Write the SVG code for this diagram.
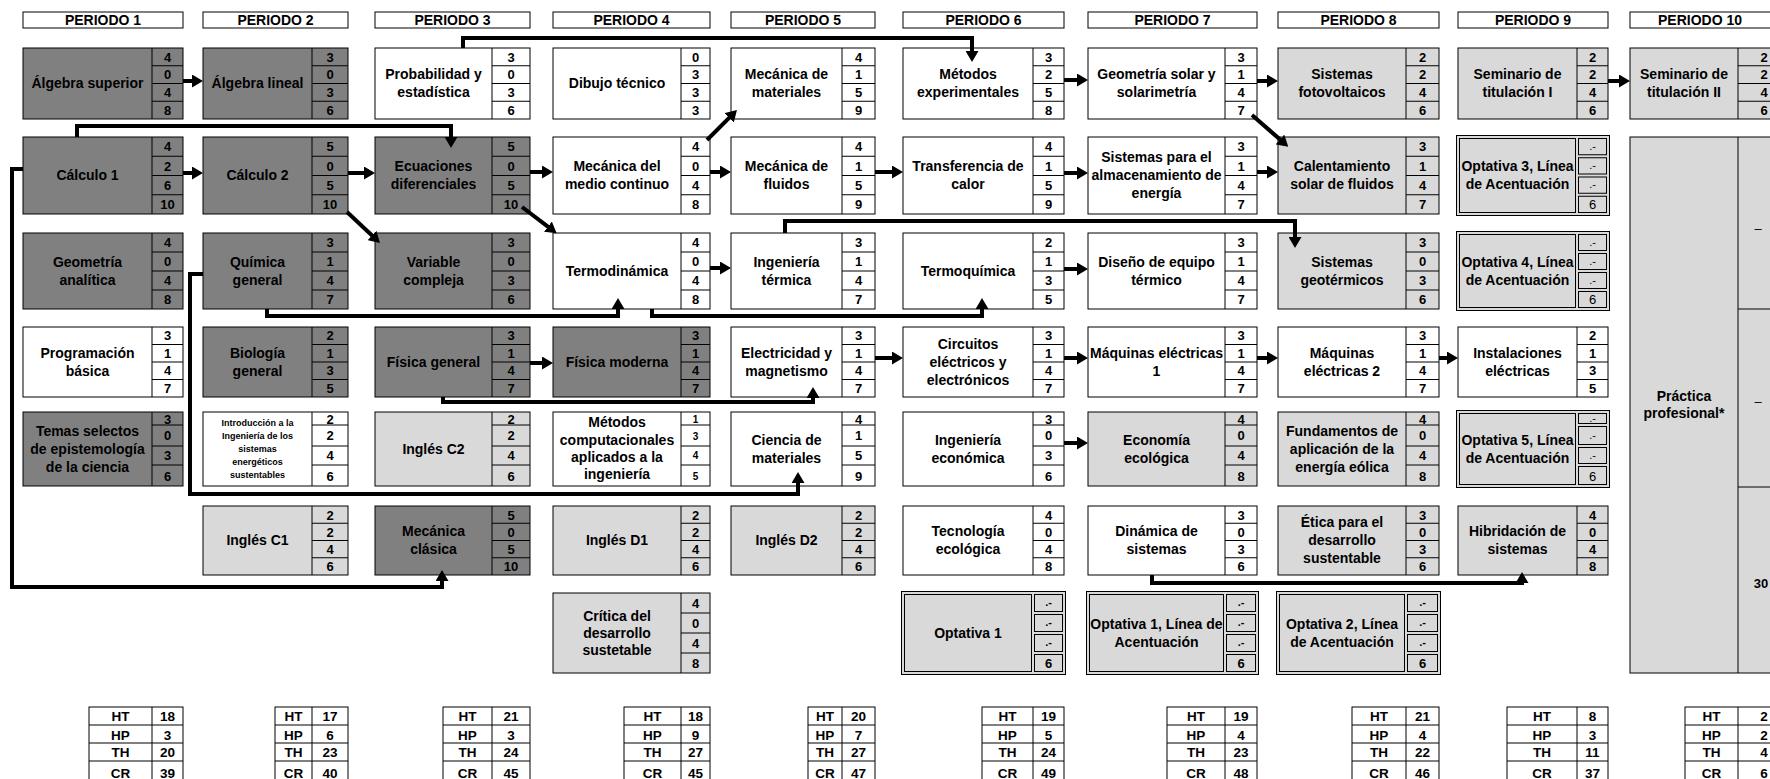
<svg xmlns="http://www.w3.org/2000/svg" width="1770" height="779" viewBox="0 0 1770 779">
<defs>
<style>
.d{fill:#808080;stroke:#000;stroke-width:1}
.l{fill:#d9d9d9;stroke:#000;stroke-width:1}
.w{fill:#fff;stroke:#000;stroke-width:1}
.g{fill:none;stroke:#000;stroke-width:1}
text{font-family:"Liberation Sans",Arial,Helvetica,sans-serif;font-weight:bold;font-size:14px;text-anchor:middle;fill:#000}
.n{font-size:13px}
.s{font-size:9px}
.sn{font-size:10px}
.o{font-size:11px}
.r{font-weight:normal}
.t{font-size:13.5px}
.c{fill:none;stroke:#000;stroke-width:4;stroke-linejoin:miter;marker-end:url(#ah)}
</style>
<marker id="ah" viewBox="0 0 11 13" markerWidth="11" markerHeight="13" markerUnits="userSpaceOnUse" refX="2" refY="6.5" orient="auto"><path d="M0 0L11 6.5L0 13Z" fill="#000"/></marker>
</defs>
<rect x="0" y="0" width="1770" height="779" fill="#fff"/>

<g id="headers">
<rect class="w" x="23" y="12" width="160" height="16"/><text x="103" y="25">PERIODO 1</text>
<rect class="w" x="203" y="12" width="145" height="16"/><text x="275.5" y="25">PERIODO 2</text>
<rect class="w" x="375" y="12" width="155" height="16"/><text x="452.5" y="25">PERIODO 3</text>
<rect class="w" x="553" y="12" width="157" height="16"/><text x="631.5" y="25">PERIODO 4</text>
<rect class="w" x="731" y="12" width="144" height="16"/><text x="803" y="25">PERIODO 5</text>
<rect class="w" x="903" y="12" width="161" height="16"/><text x="983.5" y="25">PERIODO 6</text>
<rect class="w" x="1088" y="12" width="169" height="16"/><text x="1172.5" y="25">PERIODO 7</text>
<rect class="w" x="1278" y="12" width="161" height="16"/><text x="1358.5" y="25">PERIODO 8</text>
<rect class="w" x="1458" y="12" width="150" height="16"/><text x="1533" y="25">PERIODO 9</text>
<rect class="w" x="1630" y="12" width="160" height="16"/><text x="1700" y="25">PERIODO 10</text>
</g>

<!-- PERIODO 1 -->
<g id="algebra-superior"><rect class="d" x="23" y="48" width="160" height="71"/><path class="g" d="M152 48V119M152 65.75H183M152 83.5H183M152 101.25H183"/><text x="87.5" y="88">Álgebra superior</text><text class="n"><tspan x="167.5" y="61.5">4</tspan><tspan x="167.5" y="79">0</tspan><tspan x="167.5" y="97">4</tspan><tspan x="167.5" y="114.5">8</tspan></text></g>
<g id="calculo-1"><rect class="d" x="23" y="137" width="160" height="77"/><path class="g" d="M152 137V214M152 156.25H183M152 175.5H183M152 194.75H183"/><text x="87.5" y="180">Cálculo 1</text><text class="n"><tspan x="167.5" y="151">4</tspan><tspan x="167.5" y="170.5">2</tspan><tspan x="167.5" y="189.5">6</tspan><tspan x="167.5" y="209">10</tspan></text></g>
<g id="geometria-analitica"><rect class="d" x="23" y="233" width="160" height="76"/><path class="g" d="M152 233V309M152 252H183M152 271H183M152 290H183"/><text><tspan x="87.5" y="266.5">Geometría</tspan><tspan x="87.5" y="284.5">analítica</tspan></text><text class="n"><tspan x="167.5" y="247">4</tspan><tspan x="167.5" y="266">0</tspan><tspan x="167.5" y="285">4</tspan><tspan x="167.5" y="304">8</tspan></text></g>
<g id="programacion-basica"><rect class="w" x="23" y="327" width="160" height="70"/><path class="g" d="M152 327V397M152 344.5H183M152 362H183M152 379.5H183"/><text><tspan x="87.5" y="357.5">Programación</tspan><tspan x="87.5" y="375.5">básica</tspan></text><text class="n"><tspan x="167.5" y="340">3</tspan><tspan x="167.5" y="358">1</tspan><tspan x="167.5" y="375">4</tspan><tspan x="167.5" y="393">7</tspan></text></g>
<g id="temas-selectos"><rect class="d" x="23" y="412" width="160" height="74"/><path class="g" d="M152 412V486M152 425H183M152 446H183M152 465H183"/><text><tspan x="87.5" y="435.5">Temas selectos</tspan><tspan x="87.5" y="453.5">de epistemología</tspan><tspan x="87.5" y="471.5">de la ciencia</tspan></text><text class="n"><tspan x="167.5" y="423.5">3</tspan><tspan x="167.5" y="440">0</tspan><tspan x="167.5" y="460">3</tspan><tspan x="167.5" y="480.5">6</tspan></text></g>

<!-- PERIODO 2 -->
<g id="algebra-lineal"><rect class="d" x="203" y="48" width="145" height="71"/><path class="g" d="M312 48V119M312 65.75H348M312 83.5H348M312 101.25H348"/><text x="257.5" y="88">Álgebra lineal</text><text class="n"><tspan x="330" y="61.5">3</tspan><tspan x="330" y="79">0</tspan><tspan x="330" y="97">3</tspan><tspan x="330" y="114.5">6</tspan></text></g>
<g id="calculo-2"><rect class="d" x="203" y="137" width="145" height="77"/><path class="g" d="M312 137V214M312 156.25H348M312 175.5H348M312 194.75H348"/><text x="257.5" y="180">Cálculo 2</text><text class="n"><tspan x="330" y="151">5</tspan><tspan x="330" y="170.5">0</tspan><tspan x="330" y="189.5">5</tspan><tspan x="330" y="209">10</tspan></text></g>
<g id="quimica-general"><rect class="d" x="203" y="233" width="145" height="76"/><path class="g" d="M312 233V309M312 252H348M312 271H348M312 290H348"/><text><tspan x="257.5" y="266.5">Química</tspan><tspan x="257.5" y="284.5">general</tspan></text><text class="n"><tspan x="330" y="247">3</tspan><tspan x="330" y="266">1</tspan><tspan x="330" y="285">4</tspan><tspan x="330" y="304">7</tspan></text></g>
<g id="biologia-general"><rect class="d" x="203" y="327" width="145" height="70"/><path class="g" d="M312 327V397M312 344.5H348M312 362H348M312 379.5H348"/><text><tspan x="257.5" y="357.5">Biología</tspan><tspan x="257.5" y="375.5">general</tspan></text><text class="n"><tspan x="330" y="340">2</tspan><tspan x="330" y="358">1</tspan><tspan x="330" y="375">3</tspan><tspan x="330" y="393">5</tspan></text></g>
<g id="introduccion-ingenieria"><rect class="w" x="203" y="412" width="145" height="74"/><path class="g" d="M312 412V486M312 425H348M312 446H348M312 465H348"/><text class="s"><tspan x="257.5" y="426">Introducción a la</tspan><tspan x="257.5" y="439">Ingeniería de los</tspan><tspan x="257.5" y="452">sistemas</tspan><tspan x="257.5" y="465">energéticos</tspan><tspan x="257.5" y="478">sustentables</tspan></text><text class="n"><tspan x="330" y="423.5">2</tspan><tspan x="330" y="440">2</tspan><tspan x="330" y="460">4</tspan><tspan x="330" y="480.5">6</tspan></text></g>
<g id="ingles-c1"><rect class="l" x="203" y="506" width="145" height="69"/><path class="g" d="M312 506V575M312 523.25H348M312 540.5H348M312 557.75H348"/><text x="257.5" y="545">Inglés C1</text><text class="n"><tspan x="330" y="519.5">2</tspan><tspan x="330" y="536.5">2</tspan><tspan x="330" y="553.5">4</tspan><tspan x="330" y="571">6</tspan></text></g>

<!-- PERIODO 3 -->
<g id="probabilidad-estadistica"><rect class="w" x="375" y="48" width="155" height="71"/><path class="g" d="M492 48V119M492 65.75H530M492 83.5H530M492 101.25H530"/><text><tspan x="433.5" y="79">Probabilidad y</tspan><tspan x="433.5" y="97">estadística</tspan></text><text class="n"><tspan x="511" y="61.5">3</tspan><tspan x="511" y="79">0</tspan><tspan x="511" y="97">3</tspan><tspan x="511" y="114.5">6</tspan></text></g>
<g id="ecuaciones-diferenciales"><rect class="d" x="375" y="137" width="155" height="77"/><path class="g" d="M492 137V214M492 156.25H530M492 175.5H530M492 194.75H530"/><text><tspan x="433.5" y="171">Ecuaciones</tspan><tspan x="433.5" y="189">diferenciales</tspan></text><text class="n"><tspan x="511" y="151">5</tspan><tspan x="511" y="170.5">0</tspan><tspan x="511" y="189.5">5</tspan><tspan x="511" y="209">10</tspan></text></g>
<g id="variable-compleja"><rect class="d" x="375" y="233" width="155" height="76"/><path class="g" d="M492 233V309M492 252H530M492 271H530M492 290H530"/><text><tspan x="433.5" y="266.5">Variable</tspan><tspan x="433.5" y="284.5">compleja</tspan></text><text class="n"><tspan x="511" y="247">3</tspan><tspan x="511" y="266">0</tspan><tspan x="511" y="285">3</tspan><tspan x="511" y="304">6</tspan></text></g>
<g id="fisica-general"><rect class="d" x="375" y="327" width="155" height="70"/><path class="g" d="M492 327V397M492 344.5H530M492 362H530M492 379.5H530"/><text x="433.5" y="366.5">Física general</text><text class="n"><tspan x="511" y="340">3</tspan><tspan x="511" y="358">1</tspan><tspan x="511" y="375">4</tspan><tspan x="511" y="393">7</tspan></text></g>
<g id="ingles-c2"><rect class="l" x="375" y="412" width="155" height="74"/><path class="g" d="M492 412V486M492 425H530M492 446H530M492 465H530"/><text x="433.5" y="453.5">Inglés C2</text><text class="n"><tspan x="511" y="423.5">2</tspan><tspan x="511" y="440">2</tspan><tspan x="511" y="460">4</tspan><tspan x="511" y="480.5">6</tspan></text></g>
<g id="mecanica-clasica"><rect class="d" x="375" y="506" width="155" height="69"/><path class="g" d="M492 506V575M492 523.25H530M492 540.5H530M492 557.75H530"/><text><tspan x="433.5" y="536">Mecánica</tspan><tspan x="433.5" y="554">clásica</tspan></text><text class="n"><tspan x="511" y="519.5">5</tspan><tspan x="511" y="536.5">0</tspan><tspan x="511" y="553.5">5</tspan><tspan x="511" y="571">10</tspan></text></g>

<!-- PERIODO 4 -->
<g id="dibujo-tecnico"><rect class="w" x="553" y="48" width="157" height="71"/><path class="g" d="M681 48V119M681 65.75H710M681 83.5H710M681 101.25H710"/><text x="617" y="88">Dibujo técnico</text><text class="n"><tspan x="695.5" y="61.5">0</tspan><tspan x="695.5" y="79">3</tspan><tspan x="695.5" y="97">3</tspan><tspan x="695.5" y="114.5">3</tspan></text></g>
<g id="mecanica-medio-continuo"><rect class="w" x="553" y="137" width="157" height="77"/><path class="g" d="M681 137V214M681 156.25H710M681 175.5H710M681 194.75H710"/><text><tspan x="617" y="171">Mecánica del</tspan><tspan x="617" y="189">medio continuo</tspan></text><text class="n"><tspan x="695.5" y="151">4</tspan><tspan x="695.5" y="170.5">0</tspan><tspan x="695.5" y="189.5">4</tspan><tspan x="695.5" y="209">8</tspan></text></g>
<g id="termodinamica"><rect class="w" x="553" y="233" width="157" height="76"/><path class="g" d="M681 233V309M681 252H710M681 271H710M681 290H710"/><text x="617" y="275.5">Termodinámica</text><text class="n"><tspan x="695.5" y="247">4</tspan><tspan x="695.5" y="266">0</tspan><tspan x="695.5" y="285">4</tspan><tspan x="695.5" y="304">8</tspan></text></g>
<g id="fisica-moderna"><rect class="d" x="553" y="327" width="157" height="70"/><path class="g" d="M681 327V397M681 344.5H710M681 362H710M681 379.5H710"/><text x="617" y="366.5">Física moderna</text><text class="n"><tspan x="695.5" y="340">3</tspan><tspan x="695.5" y="358">1</tspan><tspan x="695.5" y="375">4</tspan><tspan x="695.5" y="393">7</tspan></text></g>
<g id="metodos-computacionales"><rect class="w" x="553" y="412" width="157" height="74"/><path class="g" d="M681 412V486M681 425H710M681 446H710M681 465H710"/><text><tspan x="617" y="427">Métodos</tspan><tspan x="617" y="445">computacionales</tspan><tspan x="617" y="462">aplicados a la</tspan><tspan x="617" y="479">ingeniería</tspan></text><text class="sn"><tspan x="695.5" y="422.5">1</tspan><tspan x="695.5" y="439.5">3</tspan><tspan x="695.5" y="459">4</tspan><tspan x="695.5" y="479.5">5</tspan></text></g>
<g id="ingles-d1"><rect class="l" x="553" y="506" width="157" height="69"/><path class="g" d="M681 506V575M681 523.25H710M681 540.5H710M681 557.75H710"/><text x="617" y="545">Inglés D1</text><text class="n"><tspan x="695.5" y="519.5">2</tspan><tspan x="695.5" y="536.5">2</tspan><tspan x="695.5" y="553.5">4</tspan><tspan x="695.5" y="571">6</tspan></text></g>
<g id="critica-desarrollo"><rect class="l" x="553" y="593" width="157" height="80"/><path class="g" d="M681 593V673M681 613H710M681 633H710M681 653H710"/><text><tspan x="617" y="620.5">Crítica del</tspan><tspan x="617" y="637.5">desarrollo</tspan><tspan x="617" y="654.5">sustetable</tspan></text><text class="n"><tspan x="695.5" y="607.5">4</tspan><tspan x="695.5" y="627.5">0</tspan><tspan x="695.5" y="647.5">4</tspan><tspan x="695.5" y="667.5">8</tspan></text></g>

<!-- PERIODO 5 -->
<g id="mecanica-materiales"><rect class="w" x="731" y="48" width="144" height="71"/><path class="g" d="M842 48V119M842 65.75H875M842 83.5H875M842 101.25H875"/><text><tspan x="786.5" y="79">Mecánica de</tspan><tspan x="786.5" y="97">materiales</tspan></text><text class="n"><tspan x="858.5" y="61.5">4</tspan><tspan x="858.5" y="79">1</tspan><tspan x="858.5" y="97">5</tspan><tspan x="858.5" y="114.5">9</tspan></text></g>
<g id="mecanica-fluidos"><rect class="w" x="731" y="137" width="144" height="77"/><path class="g" d="M842 137V214M842 156.25H875M842 175.5H875M842 194.75H875"/><text><tspan x="786.5" y="171">Mecánica de</tspan><tspan x="786.5" y="189">fluidos</tspan></text><text class="n"><tspan x="858.5" y="151">4</tspan><tspan x="858.5" y="170.5">1</tspan><tspan x="858.5" y="189.5">5</tspan><tspan x="858.5" y="209">9</tspan></text></g>
<g id="ingenieria-termica"><rect class="w" x="731" y="233" width="144" height="76"/><path class="g" d="M842 233V309M842 252H875M842 271H875M842 290H875"/><text><tspan x="786.5" y="266.5">Ingeniería</tspan><tspan x="786.5" y="284.5">térmica</tspan></text><text class="n"><tspan x="858.5" y="247">3</tspan><tspan x="858.5" y="266">1</tspan><tspan x="858.5" y="285">4</tspan><tspan x="858.5" y="304">7</tspan></text></g>
<g id="electricidad-magnetismo"><rect class="w" x="731" y="327" width="144" height="70"/><path class="g" d="M842 327V397M842 344.5H875M842 362H875M842 379.5H875"/><text><tspan x="786.5" y="357.5">Electricidad y</tspan><tspan x="786.5" y="375.5">magnetismo</tspan></text><text class="n"><tspan x="858.5" y="340">3</tspan><tspan x="858.5" y="358">1</tspan><tspan x="858.5" y="375">4</tspan><tspan x="858.5" y="393">7</tspan></text></g>
<g id="ciencia-materiales"><rect class="w" x="731" y="412" width="144" height="74"/><path class="g" d="M842 412V486M842 425H875M842 446H875M842 465H875"/><text><tspan x="786.5" y="444.5">Ciencia de</tspan><tspan x="786.5" y="462.5">materiales</tspan></text><text class="n"><tspan x="858.5" y="423.5">4</tspan><tspan x="858.5" y="440">1</tspan><tspan x="858.5" y="460">5</tspan><tspan x="858.5" y="480.5">9</tspan></text></g>
<g id="ingles-d2"><rect class="l" x="731" y="506" width="144" height="69"/><path class="g" d="M842 506V575M842 523.25H875M842 540.5H875M842 557.75H875"/><text x="786.5" y="545">Inglés D2</text><text class="n"><tspan x="858.5" y="519.5">2</tspan><tspan x="858.5" y="536.5">2</tspan><tspan x="858.5" y="553.5">4</tspan><tspan x="858.5" y="571">6</tspan></text></g>

<!-- PERIODO 6 -->
<g id="metodos-experimentales"><rect class="w" x="903" y="48" width="161" height="71"/><path class="g" d="M1033 48V119M1033 65.75H1064M1033 83.5H1064M1033 101.25H1064"/><text><tspan x="968" y="79">Métodos</tspan><tspan x="968" y="97">experimentales</tspan></text><text class="n"><tspan x="1048.5" y="61.5">3</tspan><tspan x="1048.5" y="79">2</tspan><tspan x="1048.5" y="97">5</tspan><tspan x="1048.5" y="114.5">8</tspan></text></g>
<g id="transferencia-calor"><rect class="w" x="903" y="137" width="161" height="77"/><path class="g" d="M1033 137V214M1033 156.25H1064M1033 175.5H1064M1033 194.75H1064"/><text><tspan x="968" y="171">Transferencia de</tspan><tspan x="968" y="189">calor</tspan></text><text class="n"><tspan x="1048.5" y="151">4</tspan><tspan x="1048.5" y="170.5">1</tspan><tspan x="1048.5" y="189.5">5</tspan><tspan x="1048.5" y="209">9</tspan></text></g>
<g id="termoquimica"><rect class="w" x="903" y="233" width="161" height="76"/><path class="g" d="M1033 233V309M1033 252H1064M1033 271H1064M1033 290H1064"/><text x="968" y="275.5">Termoquímica</text><text class="n"><tspan x="1048.5" y="247">2</tspan><tspan x="1048.5" y="266">1</tspan><tspan x="1048.5" y="285">3</tspan><tspan x="1048.5" y="304">5</tspan></text></g>
<g id="circuitos"><rect class="w" x="903" y="327" width="161" height="70"/><path class="g" d="M1033 327V397M1033 344.5H1064M1033 362H1064M1033 379.5H1064"/><text><tspan x="968" y="348.5">Circuitos</tspan><tspan x="968" y="366.5">eléctricos y</tspan><tspan x="968" y="384.5">electrónicos</tspan></text><text class="n"><tspan x="1048.5" y="340">3</tspan><tspan x="1048.5" y="358">1</tspan><tspan x="1048.5" y="375">4</tspan><tspan x="1048.5" y="393">7</tspan></text></g>
<g id="ingenieria-economica"><rect class="w" x="903" y="412" width="161" height="74"/><path class="g" d="M1033 412V486M1033 425H1064M1033 446H1064M1033 465H1064"/><text><tspan x="968" y="444.5">Ingeniería</tspan><tspan x="968" y="462.5">económica</tspan></text><text class="n"><tspan x="1048.5" y="423.5">3</tspan><tspan x="1048.5" y="440">0</tspan><tspan x="1048.5" y="460">3</tspan><tspan x="1048.5" y="480.5">6</tspan></text></g>
<g id="tecnologia-ecologica"><rect class="w" x="903" y="506" width="161" height="69"/><path class="g" d="M1033 506V575M1033 523.25H1064M1033 540.5H1064M1033 557.75H1064"/><text><tspan x="968" y="536">Tecnología</tspan><tspan x="968" y="554">ecológica</tspan></text><text class="n"><tspan x="1048.5" y="519.5">4</tspan><tspan x="1048.5" y="536.5">0</tspan><tspan x="1048.5" y="553.5">4</tspan><tspan x="1048.5" y="571">8</tspan></text></g>
<g id="optativa-1"><rect class="l" x="901.5" y="591.5" width="164" height="83"/><rect class="l" x="904.5" y="594.5" width="127" height="77"/><rect class="l" x="1034.5" y="594.5" width="28" height="17"/><rect class="l" x="1034.5" y="614.5" width="28" height="17"/><rect class="l" x="1034.5" y="634.5" width="28" height="17"/><rect class="l" x="1034.5" y="654.5" width="28" height="17"/><text x="968" y="637.5">Optativa 1</text><text class="o"><tspan x="1048.5" y="606">.-</tspan><tspan x="1048.5" y="626">.-</tspan><tspan x="1048.5" y="646">.-</tspan></text><text class="n" x="1048.5" y="667.5">6</text></g>

<!-- PERIODO 7 -->
<g id="geometria-solar"><rect class="w" x="1088" y="48" width="169" height="71"/><path class="g" d="M1225 48V119M1225 65.75H1257M1225 83.5H1257M1225 101.25H1257"/><text><tspan x="1156.5" y="79">Geometría solar y</tspan><tspan x="1156.5" y="97">solarimetría</tspan></text><text class="n"><tspan x="1241" y="61.5">3</tspan><tspan x="1241" y="79">1</tspan><tspan x="1241" y="97">4</tspan><tspan x="1241" y="114.5">7</tspan></text></g>
<g id="sistemas-almacenamiento"><rect class="w" x="1088" y="137" width="169" height="77"/><path class="g" d="M1225 137V214M1225 156.25H1257M1225 175.5H1257M1225 194.75H1257"/><text><tspan x="1156.5" y="162">Sistemas para el</tspan><tspan x="1156.5" y="180">almacenamiento de</tspan><tspan x="1156.5" y="198">energía</tspan></text><text class="n"><tspan x="1241" y="151">3</tspan><tspan x="1241" y="170.5">1</tspan><tspan x="1241" y="189.5">4</tspan><tspan x="1241" y="209">7</tspan></text></g>
<g id="diseno-equipo-termico"><rect class="w" x="1088" y="233" width="169" height="76"/><path class="g" d="M1225 233V309M1225 252H1257M1225 271H1257M1225 290H1257"/><text><tspan x="1156.5" y="266.5">Diseño de equipo</tspan><tspan x="1156.5" y="284.5">térmico</tspan></text><text class="n"><tspan x="1241" y="247">3</tspan><tspan x="1241" y="266">1</tspan><tspan x="1241" y="285">4</tspan><tspan x="1241" y="304">7</tspan></text></g>
<g id="maquinas-electricas-1"><rect class="w" x="1088" y="327" width="169" height="70"/><path class="g" d="M1225 327V397M1225 344.5H1257M1225 362H1257M1225 379.5H1257"/><text><tspan x="1156.5" y="357.5">Máquinas eléctricas</tspan><tspan x="1156.5" y="375.5">1</tspan></text><text class="n"><tspan x="1241" y="340">3</tspan><tspan x="1241" y="358">1</tspan><tspan x="1241" y="375">4</tspan><tspan x="1241" y="393">7</tspan></text></g>
<g id="economia-ecologica"><rect class="l" x="1088" y="412" width="169" height="74"/><path class="g" d="M1225 412V486M1225 425H1257M1225 446H1257M1225 465H1257"/><text><tspan x="1156.5" y="444.5">Economía</tspan><tspan x="1156.5" y="462.5">ecológica</tspan></text><text class="n"><tspan x="1241" y="423.5">4</tspan><tspan x="1241" y="440">0</tspan><tspan x="1241" y="460">4</tspan><tspan x="1241" y="480.5">8</tspan></text></g>
<g id="dinamica-sistemas"><rect class="w" x="1088" y="506" width="169" height="69"/><path class="g" d="M1225 506V575M1225 523.25H1257M1225 540.5H1257M1225 557.75H1257"/><text><tspan x="1156.5" y="536">Dinámica de</tspan><tspan x="1156.5" y="554">sistemas</tspan></text><text class="n"><tspan x="1241" y="519.5">3</tspan><tspan x="1241" y="536.5">0</tspan><tspan x="1241" y="553.5">3</tspan><tspan x="1241" y="571">6</tspan></text></g>
<g id="optativa-1-linea"><rect class="l" x="1086.5" y="591.5" width="172" height="83"/><rect class="l" x="1089.5" y="594.5" width="134" height="77"/><rect class="l" x="1226.5" y="594.5" width="29" height="17"/><rect class="l" x="1226.5" y="614.5" width="29" height="17"/><rect class="l" x="1226.5" y="634.5" width="29" height="17"/><rect class="l" x="1226.5" y="654.5" width="29" height="17"/><text><tspan x="1156.5" y="628.5">Optativa 1, Línea de</tspan><tspan x="1156.5" y="646.5">Acentuación</tspan></text><text class="o"><tspan x="1241" y="606">.-</tspan><tspan x="1241" y="626">.-</tspan><tspan x="1241" y="646">.-</tspan></text><text class="n" x="1241" y="667.5">6</text></g>

<!-- PERIODO 8 -->
<g id="sistemas-fotovoltaicos"><rect class="l" x="1278" y="48" width="161" height="71"/><path class="g" d="M1406 48V119M1406 65.75H1439M1406 83.5H1439M1406 101.25H1439"/><text><tspan x="1342" y="79">Sistemas</tspan><tspan x="1342" y="97">fotovoltaicos</tspan></text><text class="n"><tspan x="1422.5" y="61.5">2</tspan><tspan x="1422.5" y="79">2</tspan><tspan x="1422.5" y="97">4</tspan><tspan x="1422.5" y="114.5">6</tspan></text></g>
<g id="calentamiento-solar"><rect class="l" x="1278" y="137" width="161" height="77"/><path class="g" d="M1406 137V214M1406 156.25H1439M1406 175.5H1439M1406 194.75H1439"/><text><tspan x="1342" y="171">Calentamiento</tspan><tspan x="1342" y="189">solar de fluidos</tspan></text><text class="n"><tspan x="1422.5" y="151">3</tspan><tspan x="1422.5" y="170.5">1</tspan><tspan x="1422.5" y="189.5">4</tspan><tspan x="1422.5" y="209">7</tspan></text></g>
<g id="sistemas-geotermicos"><rect class="l" x="1278" y="233" width="161" height="76"/><path class="g" d="M1406 233V309M1406 252H1439M1406 271H1439M1406 290H1439"/><text><tspan x="1342" y="266.5">Sistemas</tspan><tspan x="1342" y="284.5">geotérmicos</tspan></text><text class="n"><tspan x="1422.5" y="247">3</tspan><tspan x="1422.5" y="266">0</tspan><tspan x="1422.5" y="285">3</tspan><tspan x="1422.5" y="304">6</tspan></text></g>
<g id="maquinas-electricas-2"><rect class="w" x="1278" y="327" width="161" height="70"/><path class="g" d="M1406 327V397M1406 344.5H1439M1406 362H1439M1406 379.5H1439"/><text><tspan x="1342" y="357.5">Máquinas</tspan><tspan x="1342" y="375.5">eléctricas 2</tspan></text><text class="n"><tspan x="1422.5" y="340">3</tspan><tspan x="1422.5" y="358">1</tspan><tspan x="1422.5" y="375">4</tspan><tspan x="1422.5" y="393">7</tspan></text></g>
<g id="fundamentos-eolica"><rect class="l" x="1278" y="412" width="161" height="74"/><path class="g" d="M1406 412V486M1406 425H1439M1406 446H1439M1406 465H1439"/><text><tspan x="1342" y="435.5">Fundamentos de</tspan><tspan x="1342" y="453.5">aplicación de la</tspan><tspan x="1342" y="471.5">energía eólica</tspan></text><text class="n"><tspan x="1422.5" y="423.5">4</tspan><tspan x="1422.5" y="440">0</tspan><tspan x="1422.5" y="460">4</tspan><tspan x="1422.5" y="480.5">8</tspan></text></g>
<g id="etica-desarrollo"><rect class="l" x="1278" y="506" width="161" height="69"/><path class="g" d="M1406 506V575M1406 523.25H1439M1406 540.5H1439M1406 557.75H1439"/><text><tspan x="1342" y="527">Ética para el</tspan><tspan x="1342" y="545">desarrollo</tspan><tspan x="1342" y="563">sustentable</tspan></text><text class="n"><tspan x="1422.5" y="519.5">3</tspan><tspan x="1422.5" y="536.5">0</tspan><tspan x="1422.5" y="553.5">3</tspan><tspan x="1422.5" y="571">6</tspan></text></g>
<g id="optativa-2-linea"><rect class="l" x="1276.5" y="591.5" width="164" height="83"/><rect class="l" x="1279.5" y="594.5" width="125" height="77"/><rect class="l" x="1407.5" y="594.5" width="30" height="17"/><rect class="l" x="1407.5" y="614.5" width="30" height="17"/><rect class="l" x="1407.5" y="634.5" width="30" height="17"/><rect class="l" x="1407.5" y="654.5" width="30" height="17"/><text><tspan x="1342" y="628.5">Optativa 2, Línea</tspan><tspan x="1342" y="646.5">de Acentuación</tspan></text><text class="o"><tspan x="1422.5" y="606">.-</tspan><tspan x="1422.5" y="626">.-</tspan><tspan x="1422.5" y="646">.-</tspan></text><text class="n" x="1422.5" y="667.5">6</text></g>

<!-- PERIODO 9 -->
<g id="seminario-titulacion-1"><rect class="l" x="1458" y="48" width="150" height="71"/><path class="g" d="M1577 48V119M1577 65.75H1608M1577 83.5H1608M1577 101.25H1608"/><text><tspan x="1517.5" y="79">Seminario de</tspan><tspan x="1517.5" y="97">titulación I</tspan></text><text class="n"><tspan x="1592.5" y="61.5">2</tspan><tspan x="1592.5" y="79">2</tspan><tspan x="1592.5" y="97">4</tspan><tspan x="1592.5" y="114.5">6</tspan></text></g>
<g id="optativa-3-linea"><rect class="l" x="1456.5" y="135.5" width="153" height="80"/><rect class="l" x="1459.5" y="138.5" width="116" height="74"/><rect class="l" x="1578.5" y="138.5" width="28" height="16.25"/><rect class="l" x="1578.5" y="157.75" width="28" height="16.25"/><rect class="l" x="1578.5" y="177" width="28" height="16.25"/><rect class="l" x="1578.5" y="196.25" width="28" height="16.25"/><text><tspan x="1517.5" y="171">Optativa 3, Línea</tspan><tspan x="1517.5" y="189">de Acentuación</tspan></text><text class="o r"><tspan x="1592.5" y="149.5">.-</tspan><tspan x="1592.5" y="169">.-</tspan><tspan x="1592.5" y="188">.-</tspan></text><text class="n r" x="1592.5" y="209">6</text></g>
<g id="optativa-4-linea"><rect class="l" x="1456.5" y="231.5" width="153" height="79"/><rect class="l" x="1459.5" y="234.5" width="116" height="73"/><rect class="l" x="1578.5" y="234.5" width="28" height="16"/><rect class="l" x="1578.5" y="253.5" width="28" height="16"/><rect class="l" x="1578.5" y="272.5" width="28" height="16"/><rect class="l" x="1578.5" y="291.5" width="28" height="16"/><text><tspan x="1517.5" y="266.5">Optativa 4, Línea</tspan><tspan x="1517.5" y="284.5">de Acentuación</tspan></text><text class="o r"><tspan x="1592.5" y="245.5">.-</tspan><tspan x="1592.5" y="264.5">.-</tspan><tspan x="1592.5" y="283.5">.-</tspan></text><text class="n r" x="1592.5" y="304">6</text></g>
<g id="instalaciones-electricas"><rect class="w" x="1458" y="327" width="150" height="70"/><path class="g" d="M1577 327V397M1577 344.5H1608M1577 362H1608M1577 379.5H1608"/><text><tspan x="1517.5" y="357.5">Instalaciones</tspan><tspan x="1517.5" y="375.5">eléctricas</tspan></text><text class="n"><tspan x="1592.5" y="340">2</tspan><tspan x="1592.5" y="358">1</tspan><tspan x="1592.5" y="375">3</tspan><tspan x="1592.5" y="393">5</tspan></text></g>
<g id="optativa-5-linea"><rect class="l" x="1456.5" y="410.5" width="153" height="77"/><rect class="l" x="1459.5" y="413.5" width="116" height="71"/><rect class="l" x="1578.5" y="413.5" width="28" height="10"/><rect class="l" x="1578.5" y="426.5" width="28" height="18"/><rect class="l" x="1578.5" y="447.5" width="28" height="16"/><rect class="l" x="1578.5" y="466.5" width="28" height="18"/><text><tspan x="1517.5" y="444.5">Optativa 5, Línea</tspan><tspan x="1517.5" y="462.5">de Acentuación</tspan></text><text class="o r"><tspan x="1592.5" y="421.5">.-</tspan><tspan x="1592.5" y="438.5">.-</tspan><tspan x="1592.5" y="458.5">.-</tspan></text><text class="n r" x="1592.5" y="480.5">6</text></g>
<g id="hibridacion-sistemas"><rect class="l" x="1458" y="506" width="150" height="69"/><path class="g" d="M1577 506V575M1577 523.25H1608M1577 540.5H1608M1577 557.75H1608"/><text><tspan x="1517.5" y="536">Hibridación de</tspan><tspan x="1517.5" y="554">sistemas</tspan></text><text class="n"><tspan x="1592.5" y="519.5">4</tspan><tspan x="1592.5" y="536.5">0</tspan><tspan x="1592.5" y="553.5">4</tspan><tspan x="1592.5" y="571">8</tspan></text></g>

<!-- PERIODO 10 -->
<g id="seminario-titulacion-2"><rect class="l" x="1630" y="48" width="160" height="71"/><path class="g" d="M1738 48V119M1738 65.75H1790M1738 83.5H1790M1738 101.25H1790"/><text><tspan x="1684" y="79">Seminario de</tspan><tspan x="1684" y="97">titulación II</tspan></text><text class="n"><tspan x="1764" y="61.5">2</tspan><tspan x="1764" y="79">2</tspan><tspan x="1764" y="97">4</tspan><tspan x="1764" y="114.5">6</tspan></text></g>
<g id="practica-profesional"><rect class="l" x="1630" y="137" width="160" height="536"/><path class="g" d="M1738 137V673M1738 309H1790M1738 487H1790"/><text><tspan x="1684" y="400.5">Práctica</tspan><tspan x="1684" y="418">profesional*</tspan></text><text class="n r"><tspan x="1758" y="233">–</tspan><tspan x="1758" y="406">–</tspan></text><text class="n" x="1761" y="587.5">30</text></g>

<!-- Totales -->
<g id="totales">
<g id="totales-p1"><rect class="w" x="89" y="707" width="94" height="80"/><path class="g" d="M152 707V787M89 725H183M89 743H183M89 761H183"/><text class="t"><tspan x="120.5" y="721">HT</tspan><tspan x="120.5" y="739.5">HP</tspan><tspan x="120.5" y="757">TH</tspan><tspan x="120.5" y="777.5">CR</tspan><tspan x="167.5" y="721">18</tspan><tspan x="167.5" y="739.5">3</tspan><tspan x="167.5" y="757">20</tspan><tspan x="167.5" y="777.5">39</tspan></text></g>
<g id="totales-p2"><rect class="w" x="275" y="707" width="73" height="80"/><path class="g" d="M312 707V787M275 725H348M275 743H348M275 761H348"/><text class="t"><tspan x="293.5" y="721">HT</tspan><tspan x="293.5" y="739.5">HP</tspan><tspan x="293.5" y="757">TH</tspan><tspan x="293.5" y="777.5">CR</tspan><tspan x="330" y="721">17</tspan><tspan x="330" y="739.5">6</tspan><tspan x="330" y="757">23</tspan><tspan x="330" y="777.5">40</tspan></text></g>
<g id="totales-p3"><rect class="w" x="443" y="707" width="87" height="80"/><path class="g" d="M492 707V787M443 725H530M443 743H530M443 761H530"/><text class="t"><tspan x="467.5" y="721">HT</tspan><tspan x="467.5" y="739.5">HP</tspan><tspan x="467.5" y="757">TH</tspan><tspan x="467.5" y="777.5">CR</tspan><tspan x="511" y="721">21</tspan><tspan x="511" y="739.5">3</tspan><tspan x="511" y="757">24</tspan><tspan x="511" y="777.5">45</tspan></text></g>
<g id="totales-p4"><rect class="w" x="624" y="707" width="86" height="80"/><path class="g" d="M681 707V787M624 725H710M624 743H710M624 761H710"/><text class="t"><tspan x="652.5" y="721">HT</tspan><tspan x="652.5" y="739.5">HP</tspan><tspan x="652.5" y="757">TH</tspan><tspan x="652.5" y="777.5">CR</tspan><tspan x="695.5" y="721">18</tspan><tspan x="695.5" y="739.5">9</tspan><tspan x="695.5" y="757">27</tspan><tspan x="695.5" y="777.5">45</tspan></text></g>
<g id="totales-p5"><rect class="w" x="808" y="707" width="67" height="80"/><path class="g" d="M842 707V787M808 725H875M808 743H875M808 761H875"/><text class="t"><tspan x="825" y="721">HT</tspan><tspan x="825" y="739.5">HP</tspan><tspan x="825" y="757">TH</tspan><tspan x="825" y="777.5">CR</tspan><tspan x="858.5" y="721">20</tspan><tspan x="858.5" y="739.5">7</tspan><tspan x="858.5" y="757">27</tspan><tspan x="858.5" y="777.5">47</tspan></text></g>
<g id="totales-p6"><rect class="w" x="982" y="707" width="82" height="80"/><path class="g" d="M1033 707V787M982 725H1064M982 743H1064M982 761H1064"/><text class="t"><tspan x="1007.5" y="721">HT</tspan><tspan x="1007.5" y="739.5">HP</tspan><tspan x="1007.5" y="757">TH</tspan><tspan x="1007.5" y="777.5">CR</tspan><tspan x="1048.5" y="721">19</tspan><tspan x="1048.5" y="739.5">5</tspan><tspan x="1048.5" y="757">24</tspan><tspan x="1048.5" y="777.5">49</tspan></text></g>
<g id="totales-p7"><rect class="w" x="1167" y="707" width="90" height="80"/><path class="g" d="M1225 707V787M1167 725H1257M1167 743H1257M1167 761H1257"/><text class="t"><tspan x="1196" y="721">HT</tspan><tspan x="1196" y="739.5">HP</tspan><tspan x="1196" y="757">TH</tspan><tspan x="1196" y="777.5">CR</tspan><tspan x="1241" y="721">19</tspan><tspan x="1241" y="739.5">4</tspan><tspan x="1241" y="757">23</tspan><tspan x="1241" y="777.5">48</tspan></text></g>
<g id="totales-p8"><rect class="w" x="1352" y="707" width="87" height="80"/><path class="g" d="M1406 707V787M1352 725H1439M1352 743H1439M1352 761H1439"/><text class="t"><tspan x="1379" y="721">HT</tspan><tspan x="1379" y="739.5">HP</tspan><tspan x="1379" y="757">TH</tspan><tspan x="1379" y="777.5">CR</tspan><tspan x="1422.5" y="721">21</tspan><tspan x="1422.5" y="739.5">4</tspan><tspan x="1422.5" y="757">22</tspan><tspan x="1422.5" y="777.5">46</tspan></text></g>
<g id="totales-p9"><rect class="w" x="1507" y="707" width="101" height="80"/><path class="g" d="M1577 707V787M1507 725H1608M1507 743H1608M1507 761H1608"/><text class="t"><tspan x="1542" y="721">HT</tspan><tspan x="1542" y="739.5">HP</tspan><tspan x="1542" y="757">TH</tspan><tspan x="1542" y="777.5">CR</tspan><tspan x="1592.5" y="721">8</tspan><tspan x="1592.5" y="739.5">3</tspan><tspan x="1592.5" y="757">11</tspan><tspan x="1592.5" y="777.5">37</tspan></text></g>
<g id="totales-p10"><rect class="w" x="1685" y="707" width="105" height="80"/><path class="g" d="M1738 707V787M1685 725H1790M1685 743H1790M1685 761H1790"/><text class="t"><tspan x="1711.5" y="721">HT</tspan><tspan x="1711.5" y="739.5">HP</tspan><tspan x="1711.5" y="757">TH</tspan><tspan x="1711.5" y="777.5">CR</tspan><tspan x="1764" y="721">2</tspan><tspan x="1764" y="739.5">2</tspan><tspan x="1764" y="757">4</tspan><tspan x="1764" y="777.5">6</tspan></text></g>
</g>

<g id="connectors">
<path class="c" d="M183 81H194"/>
<path class="c" d="M183 173H194"/>
<path class="c" d="M348 173H366"/>
<path class="c" d="M347 212L373.4 236.8"/>
<path class="c" d="M77 137V126H451V139"/>
<path class="c" d="M463 48V38H972V53"/>
<path class="c" d="M530 172H544"/>
<path class="c" d="M522 207L549.5 227.9"/>
<path class="c" d="M707 140L730.6 116.4"/>
<path class="c" d="M710 172H722"/>
<path class="c" d="M875 172H894"/>
<path class="c" d="M1064 173H1079"/>
<path class="c" d="M1064 80H1079"/>
<path class="c" d="M1257 81H1269"/>
<path class="c" d="M1252 115L1281.5 140.8"/>
<path class="c" d="M1257 172H1269"/>
<path class="c" d="M1608 81H1621"/>
<path class="c" d="M785 233V221H1295V239"/>
<path class="c" d="M710 268H722"/>
<path class="c" d="M267 309V316H618V307"/>
<path class="c" d="M652 309V316H982V307"/>
<path class="c" d="M1064 269H1079"/>
<path class="c" d="M530 363H544"/>
<path class="c" d="M443 397V402H813V396"/>
<path class="c" d="M875 358H894"/>
<path class="c" d="M1064 358H1079"/>
<path class="c" d="M1257 358H1269"/>
<path class="c" d="M1439 358H1449"/>
<path class="c" d="M1064 443H1079"/>
<path class="c" d="M203 274H190V494H798V481"/>
<path class="c" d="M23 169H12V587H442V579"/>
<path class="c" d="M1152 575V583H1522V581"/>
</g>
</svg>
